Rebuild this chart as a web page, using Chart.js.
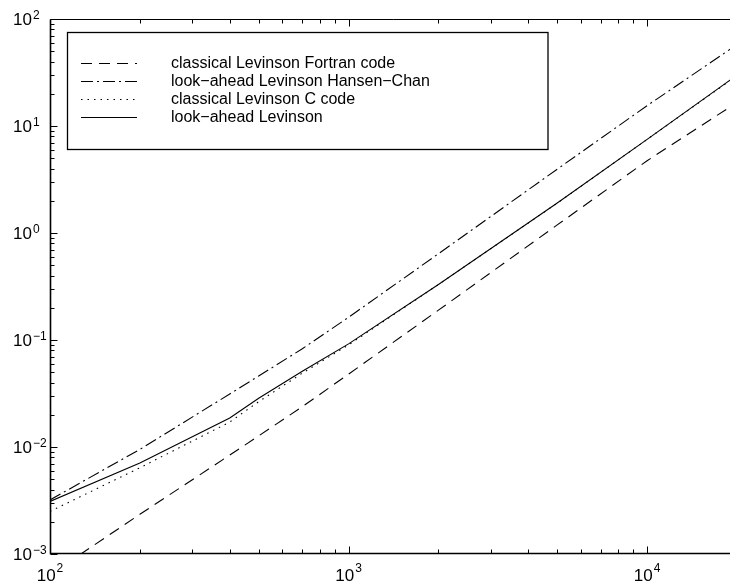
<!DOCTYPE html>
<html><head><meta charset="utf-8">
<script src="https://cdn.jsdelivr.net/npm/chart.js@4/dist/chart.umd.min.js"></script>
<style>html,body{margin:0;padding:0;overflow:hidden;background:#fff;width:730px;height:583px}canvas{display:block}</style>
</head><body><canvas id="c" width="740" height="583"></canvas>
<script>
// ---- data ----
const sizes          = [100, 200, 400, 500, 700, 1000, 2000, 5000, 10000, 20000];
const fortranTimes   = [6.4e-4, 2.35e-3, 8.4e-3, 0.0127, 0.0238, 0.048, 0.19, 1.19, 4.74, 16.6];
const hansenChanTimes= [3.2e-3, 9.5e-3, 0.0313, 0.0461, 0.0828, 0.163, 0.64, 3.95, 15.5, 57.7];
const cCodeTimes     = [2.5e-3, 6.4e-3, 0.0171, 0.0265, 0.049, 0.090, 0.33, 1.90, 7.5, 29.5];
const lookAheadTimes = [3.1e-3, 7.1e-3, 0.0187, 0.0285, 0.051, 0.092, 0.33, 1.91, 7.5, 29.9];
const seriesLabels = ['classical Levinson Fortran code', 'look\u2212ahead Levinson Hansen\u2212Chan', 'classical Levinson C code', 'look\u2212ahead Levinson'];
const xTickExponents = [2, 3, 4];
const yTickExponents = [-3, -2, -1, 0, 1, 2];
const xRange = [100, 20000];
const yRange = [1e-3, 100];

const FONT = '"Liberation Sans", Arial, Helvetica, sans-serif';
const pts = v => sizes.map((s, i) => ({x: s, y: v[i]}));
const styles = [
  {dash: [11, 7], width: 1.1},
  {dash: [12, 4, 2, 4], width: 1.1},
  {dash: [1.5, 5], width: 1.1},
  {dash: [], width: 1.1}
];
const seriesData = [fortranTimes, hansenChanTimes, cCodeTimes, lookAheadTimes];

const decorPlugin = {
  id: 'decor',
  afterDraw(chart) {
    const {ctx, chartArea: a, scales: {x, y}} = chart;
    ctx.save();
    ctx.strokeStyle = '#000';
    ctx.fillStyle = '#000';
    ctx.setLineDash([]);
    const L = Math.round(a.left) + 0.5, T = Math.round(a.top) + 0.5, B = Math.round(a.bottom) - 0.5, R = a.right;
    ctx.lineWidth = 1;
    ctx.beginPath();
    ctx.moveTo(L, T); ctx.lineTo(R, T);
    ctx.stroke();
    ctx.lineWidth = 1.6;
    ctx.beginPath();
    ctx.moveTo(L, T); ctx.lineTo(L, B);
    ctx.moveTo(L - 0.8, B); ctx.lineTo(R, B);
    ctx.stroke();
    // ticks
    ctx.lineWidth = 1;
    ctx.beginPath();
    for (let d = 2; d <= 4; d++) {
      for (let m = 1; m <= 9; m++) {
        const v = m * Math.pow(10, d);
        if (v < xRange[0] || v > xRange[1]) continue;
        const px = Math.round(x.getPixelForValue(v)) + 0.5;
        const len = m === 1 ? 7 : 4;
        ctx.moveTo(px, B); ctx.lineTo(px, B - len);
        ctx.moveTo(px, T); ctx.lineTo(px, T + len);
      }
    }
    for (let d = -3; d <= 2; d++) {
      for (let m = 1; m <= 9; m++) {
        const v = m * Math.pow(10, d);
        if (v < yRange[0] || v > yRange[1]) continue;
        const py = Math.round(y.getPixelForValue(v)) + 0.5;
        const len = m === 1 ? 7 : 4;
        ctx.moveTo(L, py); ctx.lineTo(L + len, py);
      }
    }
    ctx.stroke();
    // tick labels
    const baseFont = '17px ' + FONT, expFont = '12px ' + FONT;
    for (const e of yTickExponents) {
      const py = y.getPixelForValue(Math.pow(10, e));
      ctx.font = baseFont; ctx.textAlign = 'right'; ctx.textBaseline = 'middle';
      ctx.fillText('10', 32, py + 1);
      ctx.font = expFont; ctx.textAlign = 'left'; ctx.textBaseline = 'alphabetic';
      ctx.fillText(e < 0 ? '\u2212' + (-e) : String(e), 33, py);
    }
    for (const e of xTickExponents) {
      const px = x.getPixelForValue(Math.pow(10, e));
      ctx.font = baseFont;
      const wb = ctx.measureText('10').width;
      ctx.font = expFont;
      const we = ctx.measureText(String(e)).width;
      const start = px - (wb + 1 + we) / 2;
      ctx.font = baseFont; ctx.textAlign = 'left'; ctx.textBaseline = 'alphabetic';
      ctx.fillText('10', start, 580.5);
      ctx.font = expFont;
      ctx.fillText(String(e), start + wb + 1, 572);
    }
    // legend
    ctx.fillStyle = '#fff';
    ctx.fillRect(68, 33, 480, 116);
    ctx.strokeStyle = '#000';
    ctx.lineWidth = 1.3;
    ctx.strokeRect(67.5, 32.5, 480.5, 117);
    const rows = [63.5, 81.5, 99.5, 117.5];
    chart.data.datasets.forEach((ds, i) => {
      const ry = rows[i];
      ctx.setLineDash(ds.borderDash || []);
      ctx.lineWidth = ds.borderWidth;
      ctx.strokeStyle = ds.borderColor;
      ctx.beginPath(); ctx.moveTo(81, ry); ctx.lineTo(137, ry); ctx.stroke();
      ctx.setLineDash([]);
      ctx.fillStyle = '#000';
      ctx.font = '16px ' + FONT; ctx.textAlign = 'left'; ctx.textBaseline = 'middle';
      ctx.fillText(ds.label, 171, ry + 0.5);
    });
    ctx.restore();
  }
};

new Chart(document.getElementById('c'), {
  type: 'line',
  data: {
    datasets: seriesData.map((v, i) => ({
      label: seriesLabels[i],
      data: pts(v),
      borderColor: '#000',
      borderWidth: styles[i].width,
      borderDash: styles[i].dash,
      pointRadius: 0,
      tension: 0,
      fill: false,
      order: 3 - i
    }))
  },
  options: {
    responsive: false,
    animation: false,
    events: [],
    layout: {padding: {left: 50, top: 19, right: 3, bottom: 29}},
    plugins: {legend: {display: false}, tooltip: {enabled: false}},
    scales: {
      x: {type: 'logarithmic', min: xRange[0], max: xRange[1], display: false},
      y: {type: 'logarithmic', min: yRange[0], max: yRange[1], display: false}
    }
  },
  plugins: [decorPlugin]
});
</script>
</body></html>
